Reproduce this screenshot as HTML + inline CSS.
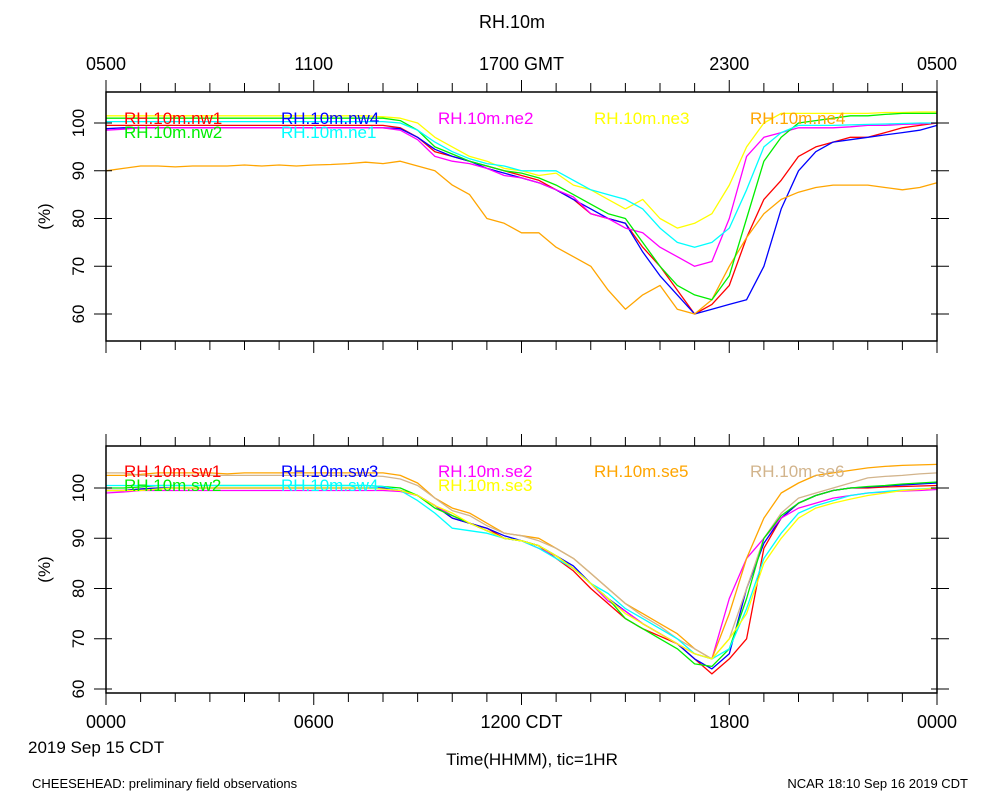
<!DOCTYPE html>
<html><head><meta charset="utf-8"><style>
html,body{margin:0;padding:0;background:#fff;}
svg{display:block;font-family:"Liberation Sans",sans-serif;}
</style></head><body>
<svg id="chart" width="1000" height="800" viewBox="0 0 1000 800">
<text x="512" y="28" font-size="18" text-anchor="middle">RH.10m</text>
<text x="28" y="753" font-size="17" text-anchor="start">2019 Sep 15 CDT</text>
<text x="532" y="765" font-size="17" text-anchor="middle">Time(HHMM), tic=1HR</text>
<text x="32" y="788" font-size="13">CHEESEHEAD: preliminary field observations</text>
<text x="968" y="788" font-size="13" text-anchor="end">NCAR 18:10 Sep 16 2019 CDT</text>
<g id="g"></g>
</svg>
<script>
const hours = [0,0.5,1,1.5,2,2.5,3,3.5,4,4.5,5,5.5,6,6.5,7,7.5,8,8.5,9,9.5,10,10.5,11,11.5,12,12.5,13,13.5,14,14.5,15,15.5,16,16.5,17,17.5,18,18.5,19,19.5,20,20.5,21,21.5,22,22.5,23,23.5,24];
const bottomTickLabels = ["0000","0600","1200 CDT","1800","0000"];
const topTickLabels = ["0500","1100","1700 GMT","2300","0500"];
const yTicks = [60,70,80,90,100];

const topNames = ["RH.10m.nw1","RH.10m.nw4","RH.10m.ne2","RH.10m.ne3","RH.10m.ne4","RH.10m.nw2","RH.10m.ne1"];
const topColors = ["#ff0000","#0000ff","#ff00ff","#ffff00","#ffa500","#00ee00","#00ffff"];
const nw1 = [99.5,99.5,99.5,99.5,99.5,99.5,99.5,99.5,99.5,99.5,99.5,99.5,99.5,99.5,99.5,99.5,99.5,99,97,94,93,92,91,90,89,88,86,84,81,80,79,74,70,65,60,62,66,76,84,88,93,95,96,97,97,98,99,99.5,100];
const nw4 = [98.8,99,99,99,99,99,99,99,99,99,99,99,99,99,99,99,99,98.8,97,94.5,93,92,90.5,89.5,88.5,87.5,86,84,82,80,79,73,68,64,60,61,62,63,70,82,90,94,96,96.5,97,97.5,98,98.5,99.5];
const ne2 = [98.5,98.7,99,99,99,99,99,99,99,99,99,99,99,99,99,99,99,98.5,96.5,93,92,91.5,90.5,89,88.5,87.5,86,84.5,81,80,78,77,74,72,70,71,80,93,97,98,99,99,99,99.2,99.5,99.5,99.7,99.8,100];
const ne3 = [101.5,101.5,101.5,101.5,101.5,101.5,101.5,101.5,101.5,101.5,101.5,101.5,101.5,101.5,101.5,101.5,101.3,101,100,97,95,93,92,90.5,90,89,89.5,87,86,84,82,84,80,78,79,81,87,95,100,102,102,102,102,102,102,102.2,102.2,102.3,102.3];
const ne4 = [90,90.5,91,91,90.8,91,91,91,91.2,91,91.2,91,91.2,91.3,91.5,91.8,91.5,92,91,90,87,85,80,79,77,77,74,72,70,65,61,64,66,61,60,63,70,76,81,84,85.5,86.5,87,87,87,86.5,86,86.5,87.5];
const nw2 = [101,101,101,101,101,101,101,101,101,101,101,101,101,101,101,101,101,100.5,98.5,95,93.5,92,91,90,89.5,88.5,87,85,83,81,80,75,70,66,64,63,68,80,92,97,100,100.5,101,101.5,101.5,101.8,102,102,102];
const ne1 = [100.3,100.3,100.3,100.3,100.3,100.3,100.3,100.3,100.3,100.3,100.3,100.3,100.3,100.3,100.3,100.3,100.3,100,98.5,96,94,92.5,91.5,91,90,90,90,88,86,85,84,82,78,75,74,75,78,86,95,98,99.5,99.5,99.5,99.6,99.7,99.8,99.9,100,100];

const botNames = ["RH.10m.sw1","RH.10m.sw3","RH.10m.se2","RH.10m.se5","RH.10m.se6","RH.10m.sw2","RH.10m.sw4","RH.10m.se3"];
const botColors = ["#ff0000","#0000ff","#ff00ff","#ffa500","#d2b48c","#00ee00","#00ffff","#ffff00"];
const sw1 = [99.5,99.5,99.8,100,100,100,100,100,100,100,100,100,100,100,100,100,100,99.5,98.5,96.5,94,93,92,90,89.5,88.5,86,83.5,80,77,74,72,70.5,69,66,63,66,70,88,94,97,98.5,99.5,100,100,100.2,100.3,100.4,100.5];
const sw3 = [99.5,99.5,99.8,100,100,100,100,100,100,100,100,100,100,100,100,100,100,99.5,98.5,96.5,94,93,92,90.5,89.5,88.5,86.5,84.5,81,78,75.5,73,71,69,66,64,67,80,89,94,97,98.5,99.5,100,100.2,100.4,100.6,100.8,101];
const se2 = [99,99.2,99.5,99.5,99.5,99.5,99.5,99.5,99.5,99.5,99.5,99.5,99.5,99.5,99.5,99.5,99.5,99.3,98.5,96.5,94.5,93,91.5,90,89.5,88,86.5,84,81,77.5,75.5,73,71,69,67,66,78,86,90,94,96,97,98,98.5,99,99.2,99.4,99.5,99.7];
const se5 = [102.5,102.5,102.7,103,103,103,103,102.8,103,103,103,103,103,103,103,103,103,102.5,101,98,96,95,93,91,90.5,90,88,86,83,80,77,75,73,71,68,66,75,86,94,99,101,102.5,103,103.5,104,104.3,104.5,104.6,104.7];
const se6 = [103,103,102.5,102.5,102.5,102.5,102.5,102.5,102.5,102.5,102.5,102.5,102.5,102.5,102.5,102.5,102.3,101.8,100.5,98,95.5,94.5,92.5,91,90.5,89.5,88,86,83,80,77,74.5,72.5,70,68,66,70,80,90,95,98,99,100,101,102,102.3,102.5,102.8,103];
const sw2 = [100,100,100.2,100.5,100.5,100.5,100.5,100.5,100.5,100.5,100.5,100.5,100.5,100.5,100.5,100.5,100.3,100,98.5,96,94.5,93,91.5,90,89.5,88.5,86.5,84,81,78,74,72,70,68,65,64.5,68,78,90,94.5,97,98.5,99.5,100,100.3,100.5,100.8,101,101.2];
const sw4 = [100.5,100.5,100.5,100.5,100.5,100.5,100.5,100.5,100.5,100.5,100.5,100.5,100.5,100.5,100.5,100.5,100.3,99.5,97.5,95,92,91.5,91,90,89.5,88,86,84,81,79,76,74,72,70,67,66,68,76,86,91,95,96.5,97.5,98.5,99,99.3,99.6,99.8,100];
const se3 = [99.5,99.5,99.5,99.8,100,100,100,100,100,100,100,100,100,100,100,100,99.8,99.5,98.5,96.5,95,93,91.5,90,89.5,88.5,86.5,84,81,78,75,73,71,69,67,66,70,75,85,90,94,96,97,97.8,98.5,99,99.5,99.7,100];

const topSeries = [nw1,nw4,ne2,ne3,ne4,nw2,ne1];
const botSeries = [sw1,sw3,se2,se5,se6,sw2,sw4,se3];

const NS = "http://www.w3.org/2000/svg";
const g = document.getElementById('g');
function mk(tag, attrs, parent){ const e=document.createElementNS(NS,tag); for(const k in attrs) e.setAttribute(k,attrs[k]); (parent||g).appendChild(e); return e; }

const X0=106, X1=937;
function xScale(h){ return X0 + (X1-X0)*h/24; }

function panel(name, top, bottom, y60, y100, yMin, names, colors, series, legendPos){
  const yScale = v => y60 + (v-60)*(y100-y60)/40;
  const pg = mk('g',{});
  
  
  series.forEach((s,i)=>{
    const d = s.map((v,j)=>(j?'L':'M')+xScale(hours[j]).toFixed(1)+','+yScale(v).toFixed(1)).join(' ');
    const p = mk('path',{d:d,fill:'none',stroke:colors[i],'stroke-width':1.3,'stroke-linejoin':'round'},pg);
    
    
  });
  names.forEach((n,i)=>{
    const t = mk('text',{x:legendPos[i][0],y:legendPos[i][1],fill:colors[i],'font-size':17},pg);
    t.textContent = n;
    
    
  });
  const fr = mk('rect',{x:X0,y:top,width:X1-X0,height:bottom-top,fill:'none',stroke:'#000','stroke-width':1.5},pg);
  
  
  for(let h=0;h<=24;h++){
    const x=xScale(h), L = (h%6===0)?12:9;
    mk('line',{x1:x,y1:top,x2:x,y2:top-L,stroke:'#000','stroke-width':1},pg);
    mk('line',{x1:x,y1:bottom,x2:x,y2:bottom+L,stroke:'#000','stroke-width':1},pg);
  }
  yTicks.forEach(v=>{
    const y=yScale(v);
    mk('line',{x1:X0-12,y1:y,x2:X0+6,y2:y,stroke:'#000','stroke-width':1},pg);
    mk('line',{x1:X1-6,y1:y,x2:X1+12,y2:y,stroke:'#000','stroke-width':1},pg);
    const t = mk('text',{x:0,y:0,'font-size':17,'text-anchor':'middle',transform:'translate('+(X0-22)+','+y+') rotate(-90)'},pg);
    t.textContent = v;
    
    
  });
  const yt = mk('text',{x:0,y:0,'font-size':17,'text-anchor':'middle',transform:'translate(50,'+((top+bottom)/2)+') rotate(-90)'},pg);
  yt.textContent = '(%)';
  
  
  return pg;
}

panel('top-panel',92,341,314,123,55,topNames,topColors,topSeries,
  [[124,124],[281,124],[438,124],[594,124],[750,124],[124,138],[281,138]]);
panel('bottom-panel',446,693,689,488,58,botNames,botColors,botSeries,
  [[124,477],[281,477],[438,477],[594,477],[750,477],[124,491],[281,491],[438,491]]);

topTickLabels.forEach((l,i)=>{
  const t = mk('text',{x:xScale(i*6),y:70,'font-size':18,'text-anchor':'middle'});
  t.textContent = l;
  
  
});
bottomTickLabels.forEach((l,i)=>{
  const t = mk('text',{x:xScale(i*6),y:728,'font-size':18,'text-anchor':'middle'});
  t.textContent = l;
  
  
});
</script>
</body></html>
